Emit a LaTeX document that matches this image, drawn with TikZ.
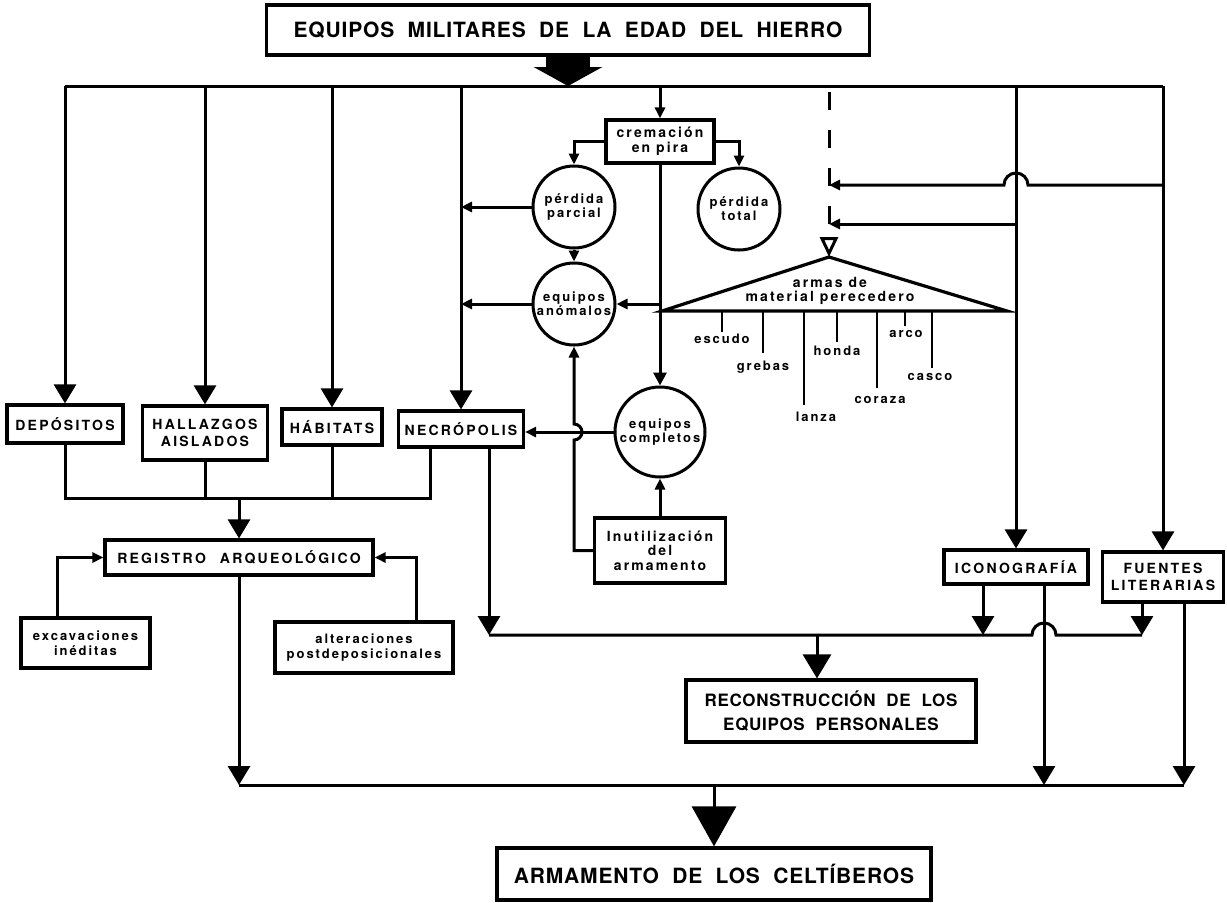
\documentclass[tikz,border=0pt]{standalone}
\usepackage{fontspec}
\usetikzlibrary{arrows.meta,calc}
\setmainfont{TeX Gyre Heros}
\newfontfamily\headfont[LetterSpace=4,WordSpace=2]{TeX Gyre Heros}
\newfontfamily\capsfont[LetterSpace=16]{TeX Gyre Heros}
\newfontfamily\smallfont[LetterSpace=15]{TeX Gyre Heros}

\begin{document}
\begin{tikzpicture}[x=0.5pt, y=-0.5pt,
  wire/.style={line width=1.5pt},
  bigarr/.style={wire, -{Triangle[width=11pt,length=9.5pt]}},
  midarr/.style={wire, -{Triangle[width=6.5pt,length=6.5pt]}},
  smallarr/.style={wire, -{Triangle[width=5pt,length=5.5pt]}},
  box/.style={draw, line width=1.6pt, inner sep=0pt, align=center,
    font=\capsfont\bfseries\fontsize{7}{8.6}\selectfont},
  headbox/.style={box, font=\headfont\bfseries\fontsize{10.5}{12}\selectfont},
  subbox/.style={box, font=\smallfont\bfseries\fontsize{6.5}{7.4}\selectfont},
  disc/.style={circle, draw, line width=1.5pt, inner sep=0pt, minimum size=41pt,
    align=center, font=\smallfont\bfseries\fontsize{6.5}{6.9}\selectfont},
  weapon/.style={inner sep=0pt, font=\smallfont\bfseries\fontsize{6.5}{7}\selectfont}]

  \useasboundingbox (0,0) rectangle (1227,902);

  % ---- Source and top bus ----
  \node[headbox, minimum width=301.5pt, minimum height=25pt] (title) at (568,30)
    {EQUIPOS MILITARES DE LA EDAD DEL HIERRO};
  \coordinate (bus) at (0,86);

  % ---- Kinds of evidence ----
  \node[box, minimum width=58pt, minimum height=19pt] (depositos) at (65,424) {DEPÓSITOS};
  \node[box, minimum width=62.5pt, minimum height=27pt] (hallazgos) at (205,433) {HALLAZGOS\\AISLADOS};
  \node[box, minimum width=50pt, minimum height=18pt] (habitats) at (332,427) {HÁBITATS};
  \node[box, minimum width=62.5pt, minimum height=18pt] (necropolis) at (461,429) {NECRÓPOLIS};
  \node[box, minimum width=72pt, minimum height=17pt] (icono) at (1016,567) {ICONOGRAFÍA};
  \node[box, minimum width=60.5pt, minimum height=25pt] (fuentes) at (1163,577) {FUENTES\\LITERARIAS};

  % ---- Cremation branch ----
  \node[subbox, minimum width=54pt, minimum height=21.5pt,
    font=\smallfont\bfseries\fontsize{7}{7.6}\selectfont] (cremacion) at (660,141.5) {cremación\\en pira};
  \node[disc] (parcial) at (574,207) {pérdida\\parcial};
  \node[disc] (total) at (739,209) {pérdida\\total};
  \node[disc] (anomalos) at (574,304) {equipos\\anómalos};
  \node[disc, minimum size=45pt] (completos) at (660,432) {equipos\\completos};
  \node[subbox, minimum width=65.5pt, minimum height=32.5pt,
    font=\smallfont\bfseries\fontsize{7}{7.2}\selectfont] (inutil) at (660,550.5) {Inutilización\\del\\armamento};

  % ---- Perishable weapons ----
  \coordinate (apex) at (829,257);
  \draw[line width=1.6pt, line join=miter] (apex) -- (1007,311) -- (662,311) -- cycle;
  \node[weapon, align=center, font=\smallfont\bfseries\fontsize{7}{6.8}\selectfont] (armas) at (830,291)
    {armas de\\material perecedero};
  \foreach \x/\y/\lx/\ly/\w in {722/332/722/339/escudo, 763/353/763/367/grebas,
      804/405/816/417/lanza, 837/342/837/351/honda, 877/388/880/400/coraza,
      905/326/906/334/arco, 932/368/930/377/casco}
  {
    \draw[line width=1.1pt] (\x,311) -- (\x,\y);
    \node[weapon] (\w) at (\lx,\ly) {\w};
  }

  % ---- Records ----
  \node[box, minimum width=134pt, minimum height=17.5pt] (registro) at (239,557.5) {REGISTRO\quad ARQUEOLÓGICO};
  \node[subbox, minimum width=64.5pt, minimum height=25pt] (excav) at (85.5,643) {excavaciones\\inéditas};
  \node[subbox, minimum width=89pt, minimum height=25.5pt] (alter) at (364,647.5) {alteraciones\\postdeposicionales};

  % ---- Results ----
  \node[headbox, minimum width=145pt, minimum height=31pt,
    font=\headfont\bfseries\fontsize{8.5}{12}\selectfont] (recons) at (831,711)
    {RECONSTRUCCIÓN DE LOS\\EQUIPOS PERSONALES};
  \node[headbox, minimum width=217pt, minimum height=26pt,
    font=\headfont\bfseries\fontsize{10.5}{12}\selectfont] (armamento) at (714,874)
    {ARMAMENTO DE LOS CELTÍBEROS};

  % ---- Top connectors ----
  \draw[line width=22pt, -{Triangle[width=34pt,length=9.5pt]}] (title.south) -- (title.south |- bus);
  \draw[wire] (depositos.north |- bus) -- (fuentes.north |- bus);
  \foreach \n in {depositos,hallazgos,habitats,necropolis,icono,fuentes}
    \draw[bigarr] (\n.north |- bus) -- (\n.north);
  \draw[smallarr] (cremacion.north |- bus) -- (cremacion.north);
  \draw[wire, dash pattern=on 9pt off 10pt, dash phase=-3pt,
    -{Triangle[open,width=9pt,length=10pt]}] (apex |- bus) -- (apex);
  \draw[smallarr] (fuentes.north |- 0,185) -- ($(icono.north |- 0,185)+(12,0)$)
    arc[start angle=0, end angle=-180, radius=12] -- (apex |- 0,185);
  \draw[smallarr] (icono.north |- 0,224) -- (apex |- 0,224);

  % ---- Cremation connectors ----
  \draw[smallarr] (cremacion.west) -| (parcial.north);
  \draw[smallarr] (cremacion.east) -| (total.north);
  \draw[midarr] (cremacion.south) -- (completos.north);
  \draw[smallarr] (parcial.west) -- (parcial.west -| necropolis.north);
  \draw[smallarr] (parcial.south) -- (anomalos.north);
  \draw[smallarr] (anomalos.west) -- (anomalos.west -| necropolis.north);
  \draw[smallarr] (anomalos.east -| cremacion.south) -- (anomalos.east);
  \draw[smallarr] (completos.west) -- (completos.west -| necropolis.east);
  \draw[smallarr] (inutil.north) -- (completos.south);
  \draw[smallarr] (inutil.west) -- (anomalos.south |- inutil.west)
    -- ($(anomalos.south |- completos.west)+(0,8)$)
    arc[start angle=90, end angle=-90, radius=8] -- (anomalos.south);

  % ---- Archaeological record ----
  \coordinate (collect) at (0,498);
  \coordinate (necroL) at ($(necropolis.south)+(-31,0)$);
  \coordinate (necroR) at ($(necropolis.south)+(28,0)$);
  \draw[wire] (depositos.south) -- (depositos.south |- collect) -- (necroL |- collect) -- (necroL);
  \draw[wire] (hallazgos.south) -- (hallazgos.south |- collect);
  \draw[wire] (habitats.south) -- (habitats.south |- collect);
  \draw[bigarr] (registro.north |- collect) -- (registro.north);
  \draw[smallarr] ($(excav.north west)+(38,0)$) |- (registro.west);
  \draw[smallarr] ($(alter.north west)+(143,0)$) |- (registro.east);

  % ---- Middle bus: personal equipment ----
  \coordinate (midbus) at (0,635);
  \coordinate (iconoL) at ($(icono.south)+(-33,0)$);
  \coordinate (iconoR) at ($(icono.south)+(28,0)$);
  \coordinate (fuentesL) at ($(fuentes.south)+(-21,0)$);
  \coordinate (fuentesR) at ($(fuentes.south)+(21,0)$);
  \draw[bigarr] (necroR) -- (necroR |- midbus);
  \draw[wire] (necroR |- midbus) -- ($(iconoR |- midbus)+(-12,0)$)
    arc[start angle=180, end angle=360, radius=12] -- (fuentesL |- midbus);
  \draw[bigarr] (iconoL) -- (iconoL |- midbus);
  \draw[bigarr] (fuentesL) -- (fuentesL |- midbus);
  \draw[wire, -{Triangle[width=14pt,length=12pt]}] ($(recons.north |- midbus)+(-14,0)$) -- ($(recons.north)+(-14,0)$);

  % ---- Bottom bus: Celtiberian weapons ----
  \coordinate (lowbus) at (0,785);
  \draw[bigarr] (registro.south) -- (registro.south |- lowbus);
  \draw[wire] (registro.south |- lowbus) -- (fuentesR |- lowbus);
  \draw[bigarr] (iconoR) -- (iconoR |- lowbus);
  \draw[bigarr] (fuentesR) -- (fuentesR |- lowbus);
  \draw[wire, -{Triangle[width=22pt,length=20pt]}] (armamento.north |- lowbus) -- (armamento.north);

\end{tikzpicture}
\end{document}
